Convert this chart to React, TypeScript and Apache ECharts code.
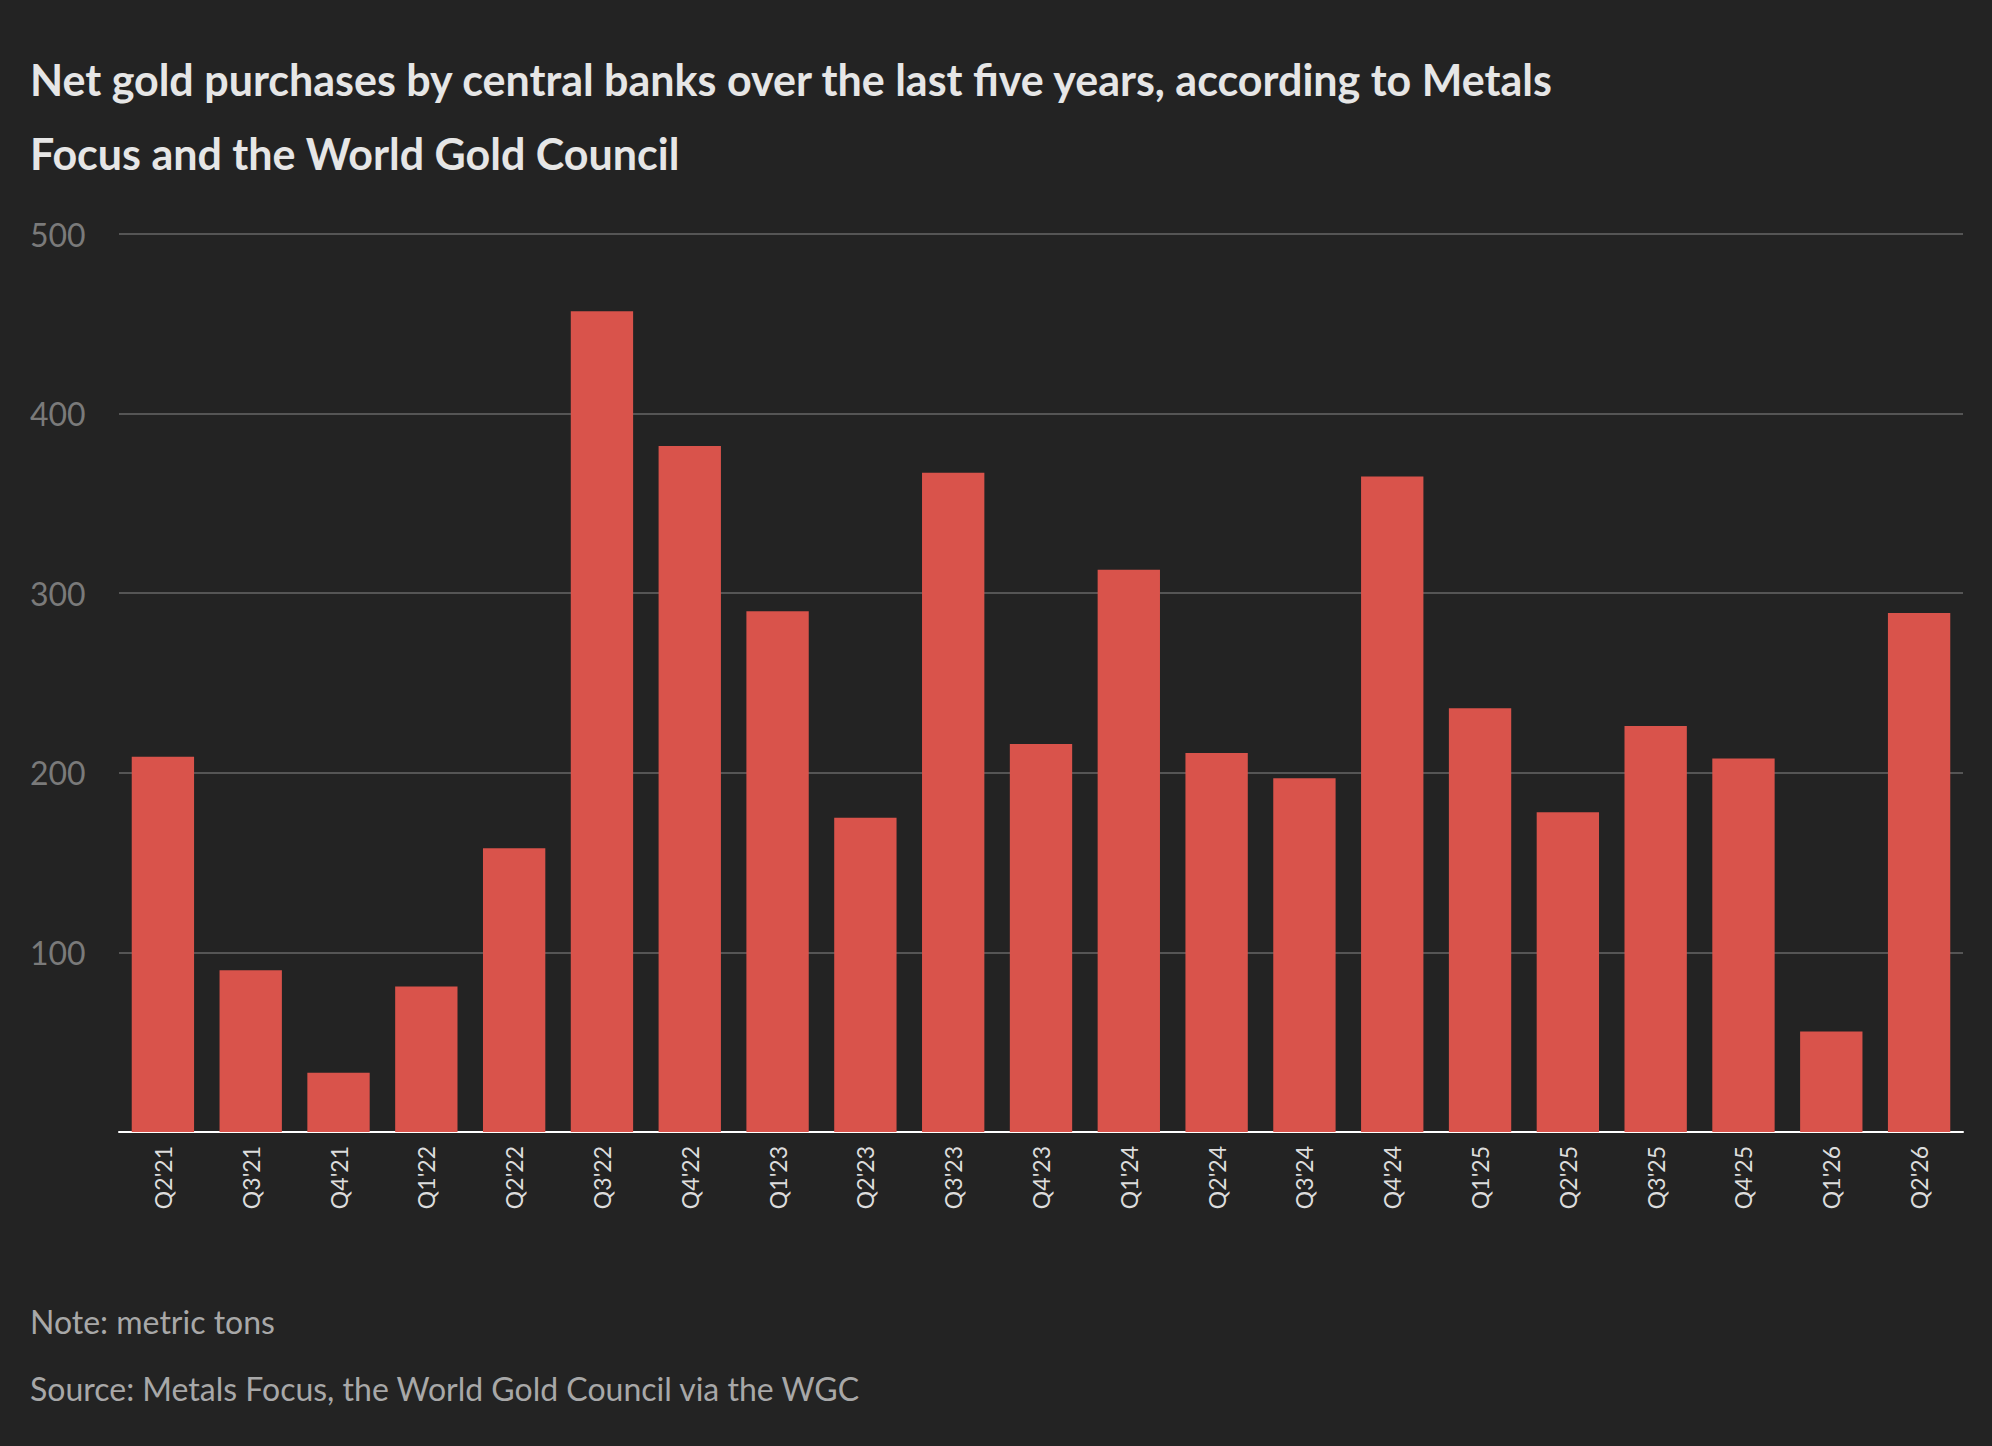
import { useEffect, useRef } from 'react';
import * as echarts from 'echarts';

const quarters = [
  "Q2'21", "Q3'21", "Q4'21", "Q1'22", "Q2'22", "Q3'22", "Q4'22", "Q1'23", "Q2'23", "Q3'23", "Q4'23",
  "Q1'24", "Q2'24", "Q3'24", "Q4'24", "Q1'25", "Q2'25", "Q3'25", "Q4'25", "Q1'26", "Q2'26",
];
const purchases = [209, 90, 33, 81, 158, 457, 382, 290, 175, 367, 216, 313, 211, 197, 365, 236, 178, 226, 208, 56, 289];
const yTicks = { min: 0, max: 500, interval: 100 };

const font = 'Lato, "Open Sans", sans-serif';

export default function App() {
  const ref = useRef<HTMLDivElement>(null);

  useEffect(() => {
    if (!ref.current) return;
    const chart = echarts.init(ref.current, null, { renderer: 'svg' });
    chart.setOption({
      animation: false,
      backgroundColor: '#232323',
      textStyle: { fontFamily: font },
      graphic: [
        {
          type: 'text', left: 30, top: 42,
          style: {
            text: 'Net gold purchases by central banks over the last five years, according to Metals\nFocus and the World Gold Council',
            fill: '#e6e6e6', font: `bold 43px ${font}`, lineHeight: 74,
          },
        },
        {
          type: 'text', left: 30, top: 1305,
          style: { text: 'Note: metric tons', fill: '#a8a8a8', font: `32px ${font}` },
        },
        {
          type: 'text', left: 30, top: 1372,
          style: { text: 'Source: Metals Focus, the World Gold Council via the WGC', fill: '#a8a8a8', font: `32px ${font}` },
        },
      ],
      grid: { left: 119, right: 29, top: 234, bottom: 314 },
      xAxis: {
        type: 'category',
        data: quarters,
        axisLine: { lineStyle: { color: '#ffffff', width: 2 } },
        axisTick: { show: false },
        axisLabel: { rotate: 90, color: '#dddddd', fontSize: 23, margin: 14, interval: 0 },
      },
      yAxis: {
        type: 'value',
        ...yTicks,
        axisLine: { show: false },
        axisTick: { show: false },
        splitLine: { lineStyle: { color: '#555555', width: 2 } },
        axisLabel: {
          color: '#7a7a7a', fontSize: 32, align: 'left', margin: 89,
          formatter: (v: number) => (v === 0 ? '' : String(v)),
        },
      },
      series: [
        {
          type: 'bar',
          data: purchases,
          barCategoryGap: '29%',
          itemStyle: { color: '#d9534b' },
        },
      ],
    });
    return () => chart.dispose();
  }, []);

  return <div ref={ref} style={{ position: 'fixed', left: 0, top: 0, width: 1992, height: 1446 }} />;
}
